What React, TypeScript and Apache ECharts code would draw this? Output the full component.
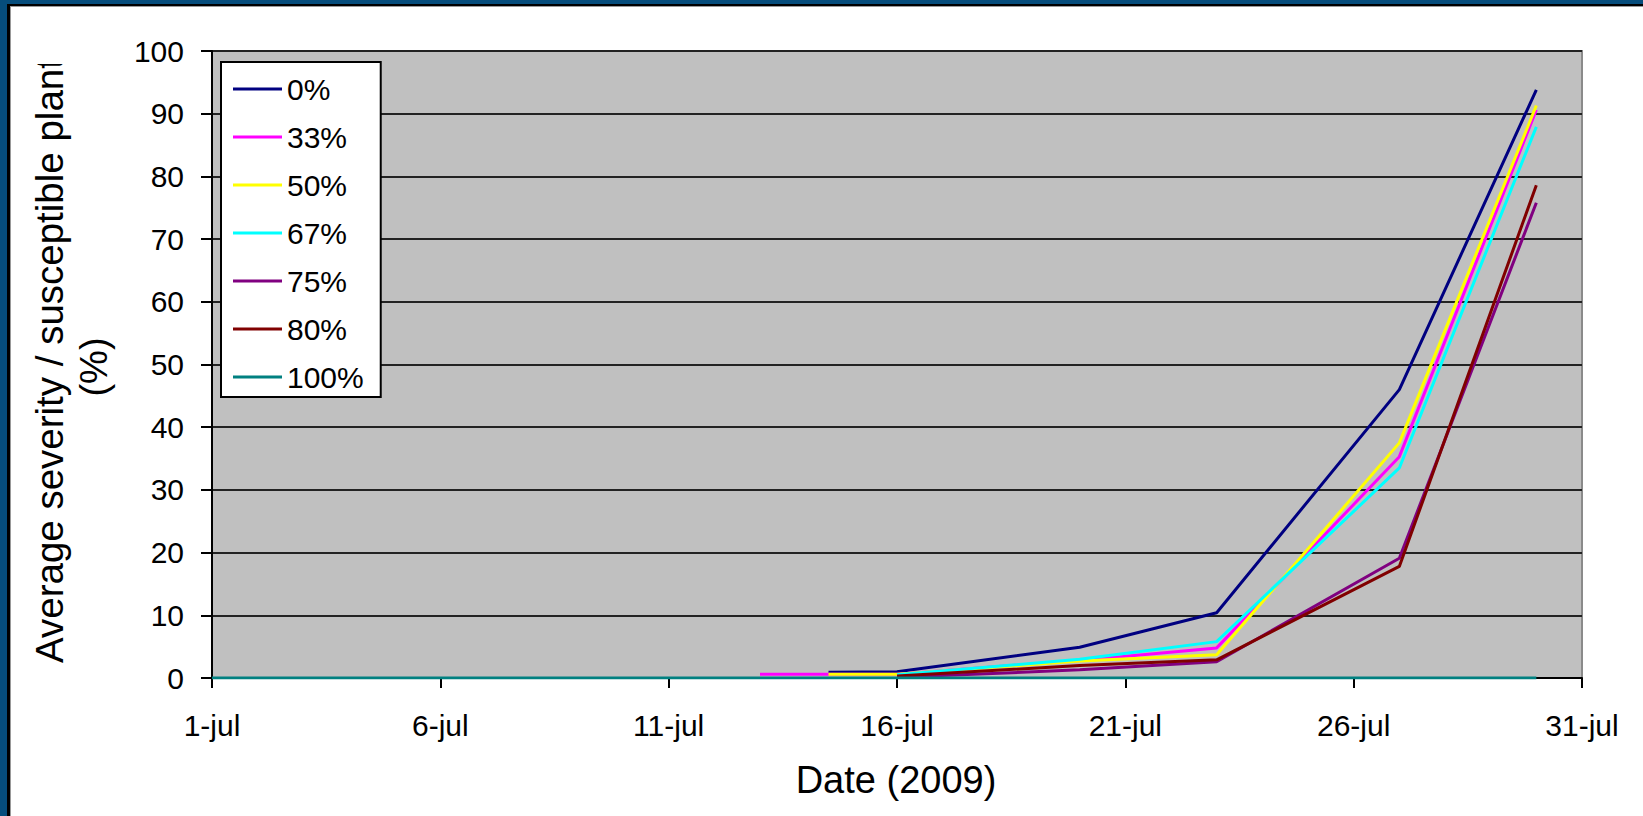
import React, { useEffect, useRef } from "react";
import * as echarts from "echarts";

// Day of month (July 2009) for each observation
const days = [1, 13, 14.5, 16, 20, 23, 27, 30];

// Average severity per treatment (%), null where not yet recorded
const sev0 = [null, null, 0.9, 1.0, 4.9, 10.4, 46.0, 93.8];
const sev33 = [null, 0.6, 0.6, 0.6, 2.8, 4.8, 35.3, 90.6];
const sev50 = [null, null, 0.6, 0.6, 2.7, 3.7, 37.5, 91.3];
const sev67 = [null, null, null, 0.5, 3.0, 5.8, 33.5, 87.9];
const sev75 = [null, null, null, 0.1, 1.3, 2.6, 19.1, 75.8];
const sev80 = [null, null, null, 0.3, 2.0, 2.9, 17.8, 78.6];
const sev100 = [0, 0, 0, 0, 0, 0, 0, 0];

const seriesNames = ["0%", "33%", "50%", "67%", "75%", "80%", "100%"];
const seriesValues = [sev0, sev33, sev50, sev67, sev75, sev80, sev100];
const seriesColors = ["#000080", "#ff00ff", "#ffff00", "#00ffff", "#800080", "#800000", "#008080"];

const FONT = '"Liberation Sans", Arial, sans-serif';

export default function App() {
  const ref = useRef<HTMLDivElement>(null);

  useEffect(() => {
    if (!ref.current) return;
    const chart = echarts.init(ref.current, undefined, { renderer: "svg" });

    const series = seriesNames.map((name, k) => ({
      name,
      type: "line",
      showSymbol: false,
      symbol: "none",
      lineStyle: { color: seriesColors[k], width: 3 },
      itemStyle: { color: seriesColors[k] },
      data: days
        .map((d, i) => [d - 1, seriesValues[k][i]])
        .filter((p) => p[1] !== null),
    }));

    chart.setOption({
      animation: false,
      backgroundColor: "#ffffff",
      textStyle: { fontFamily: FONT },
      grid: {
        left: 212,
        top: 51,
        right: 61,
        bottom: 138,
        show: true,
        backgroundColor: "#c0c0c0",
        borderColor: "#8a8a8a",
        borderWidth: 2,
      },
      legend: {
        orient: "vertical",
        left: 221,
        top: 62,
        backgroundColor: "#ffffff",
        borderColor: "#000000",
        borderWidth: 2,
        borderRadius: 0,
        padding: [12, 17, 5, 12],
        icon: "rect",
        itemWidth: 49,
        itemHeight: 3,
        itemGap: 18,
        textStyle: { fontFamily: FONT, fontSize: 30, color: "#000", lineHeight: 30 },
        data: seriesNames,
      },
      xAxis: {
        type: "value",
        min: 0,
        max: 30,
        interval: 5,
        axisLine: { show: true, onZero: false, lineStyle: { color: "#000", width: 2 } },
        axisTick: { show: true, length: 10, lineStyle: { color: "#000", width: 2 } },
        axisLabel: {
          margin: 32,
          fontFamily: FONT,
          fontSize: 30,
          color: "#000",
          formatter: (v: number) => `${v + 1}-jul`,
        },
        splitLine: { show: false },
      },
      yAxis: {
        type: "value",
        min: 0,
        max: 100,
        interval: 10,
        axisLine: { show: true, lineStyle: { color: "#000", width: 2 } },
        axisTick: { show: true, length: 11, lineStyle: { color: "#000", width: 2 } },
        axisLabel: { margin: 28, fontFamily: FONT, fontSize: 30, color: "#000" },
        splitLine: { show: true, lineStyle: { color: "#222", width: 2 } },
      },
      graphic: [
        // outer frame
        { type: "rect", shape: { x: 0, y: 0, width: 1643, height: 4 }, style: { fill: "#064d7c" }, z: 100 },
        { type: "rect", shape: { x: 0, y: 0, width: 7, height: 816 }, style: { fill: "#064d7c" }, z: 100 },
        { type: "rect", shape: { x: 7, y: 4, width: 1636, height: 2 }, style: { fill: "#000" }, z: 100 },
        { type: "rect", shape: { x: 7, y: 4, width: 3, height: 812 }, style: { fill: "#000" }, z: 100 },
        { type: "rect", shape: { x: 10, y: 6, width: 1633, height: 1 }, style: { fill: "#999" }, z: 100 },
        { type: "rect", shape: { x: 10, y: 6, width: 1, height: 810 }, style: { fill: "#999" }, z: 100 },
        // axis titles; the long y title is cut off at its top end
        {
          type: "text",
          x: 49,
          y: 663,
          rotation: Math.PI / 2,
          z: 50,
          style: {
            text: "Average severity / susceptible plant",
            font: `38.5px ${FONT}`,
            fill: "#000",
            align: "left",
            verticalAlign: "middle",
          },
        },
        { type: "rect", shape: { x: 20, y: 8, width: 60, height: 56 }, style: { fill: "#fff" }, z: 60 },
        {
          type: "text",
          x: 94,
          y: 367,
          rotation: Math.PI / 2,
          z: 50,
          style: {
            text: "(%)",
            font: `38px ${FONT}`,
            fill: "#000",
            align: "center",
            verticalAlign: "middle",
          },
        },
        {
          type: "text",
          x: 896,
          y: 780,
          z: 50,
          style: {
            text: "Date (2009)",
            font: `38px ${FONT}`,
            fill: "#000",
            align: "center",
            verticalAlign: "middle",
          },
        },
      ],
      series,
    });

    return () => chart.dispose();
  }, []);

  return (
    <div
      ref={ref}
      style={{ position: "fixed", left: 0, top: 0, width: 1643, height: 816, background: "#fff" }}
    />
  );
}
